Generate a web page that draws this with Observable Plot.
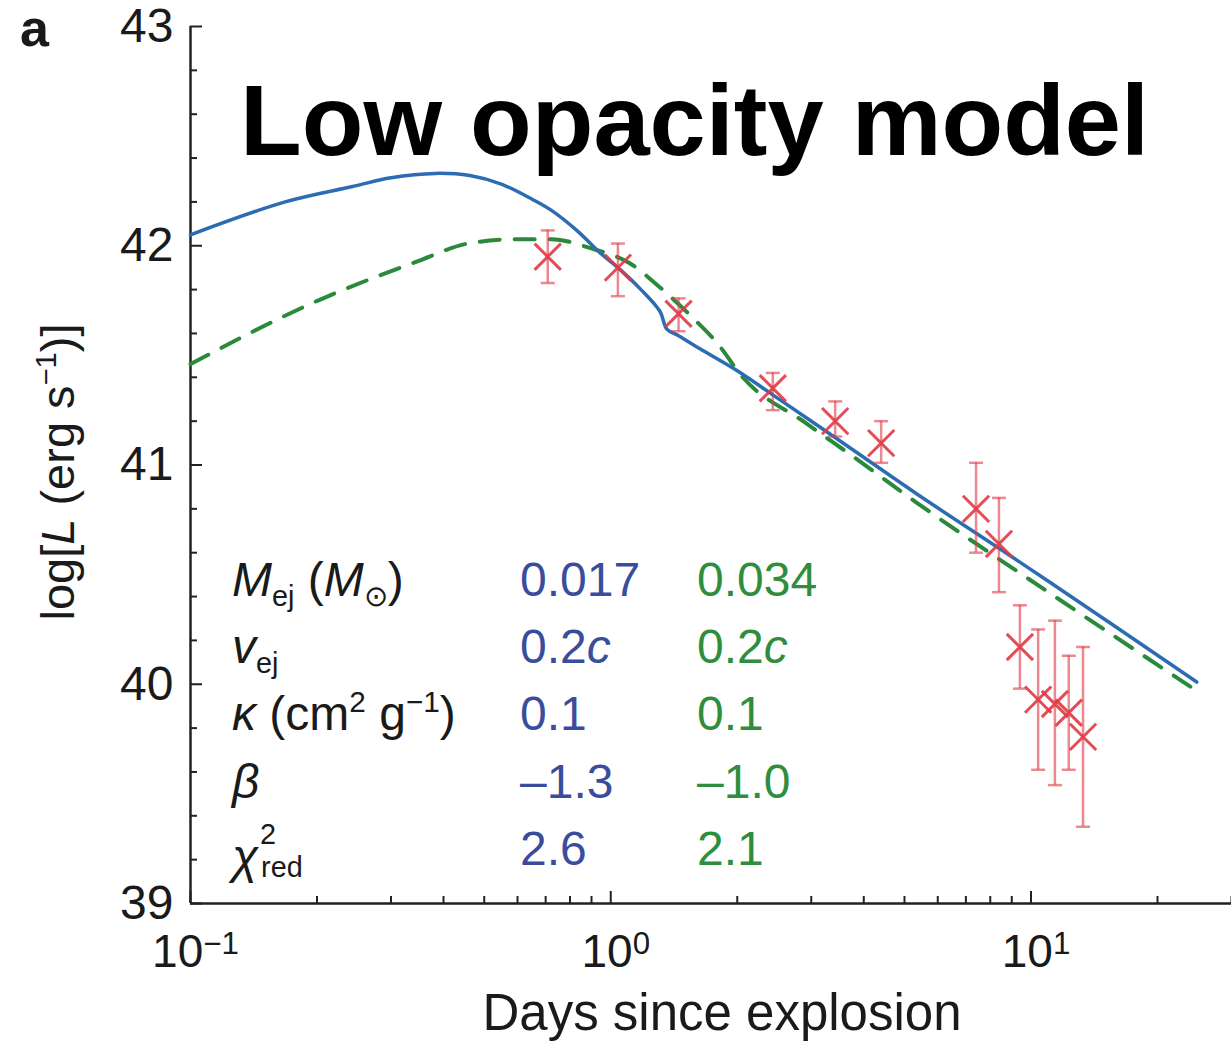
<!DOCTYPE html>
<html><head><meta charset="utf-8">
<script src="https://cdn.jsdelivr.net/npm/d3@7"></script>
<script src="https://cdn.jsdelivr.net/npm/@observablehq/plot@0.6"></script>
<style>
body{margin:0;background:#fff;}
#wrap{position:relative;width:1231px;height:1044px;font-family:"Liberation Sans",Arial,Helvetica,sans-serif;color:#1a1a1a;overflow:hidden;}
#wrap svg{position:absolute;left:0;top:0;}
.t{position:absolute;line-height:1;white-space:nowrap;}
.t sub{font-size:0.6em;vertical-align:-0.33em;line-height:0;}
.t sup{font-size:0.62em;vertical-align:0.6em;line-height:0;}
.stack{display:inline-block;position:relative;width:1.2em;height:1em;vertical-align:baseline;}
.stack .up{position:absolute;left:0.06em;top:-0.2em;font-size:0.6em;line-height:1;}
.stack .dn{position:absolute;left:0.1em;top:0.95em;font-size:0.6em;line-height:1;}
</style></head><body><div id="wrap"></div>
<script>
// ---- model curves (days since explosion, log L) ----
const blueDays = [0.1, 0.168, 0.243, 0.30, 0.382, 0.462, 0.551, 0.653, 0.724, 0.83, 0.953, 1.04, 1.18, 1.31, 1.36, 1.45, 1.63, 2.0, 2.43, 3.70, 5.33, 8.39, 11.0, 24.8];
const blueLogL = [42.05, 42.20, 42.27, 42.31, 42.33, 42.32, 42.28, 42.21, 42.16, 42.07, 41.96, 41.90, 41.80, 41.70, 41.62, 41.59, 41.53, 41.43, 41.32, 41.08, 40.87, 40.62, 40.47, 40.01];
const greenDays = [0.1, 0.201, 0.348, 0.457, 0.601, 0.724, 0.891, 1.11, 1.31, 1.57, 1.82, 2.02, 2.92, 3.70, 5.33, 11.0, 24.8];
const greenLogL = [41.46, 41.75, 41.93, 42.01, 42.03, 42.03, 41.99, 41.92, 41.81, 41.67, 41.54, 41.42, 41.19, 41.05, 40.83, 40.42, 39.97];
// ---- observations ----
const obsDays  = [0.708, 1.04, 1.45, 2.43, 3.42, 4.40, 7.40, 8.39, 9.41, 10.4, 11.4, 12.3, 13.3];
const obsLogL  = [41.95, 41.90, 41.69, 41.35, 41.20, 41.10, 40.80, 40.64, 40.17, 39.93, 39.91, 39.87, 39.76];
const obsUpper = [42.07, 42.01, 41.76, 41.42, 41.29, 41.20, 41.01, 40.85, 40.36, 40.25, 40.29, 40.13, 40.17];
const obsLower = [41.83, 41.77, 41.61, 41.25, 41.13, 41.01, 40.60, 40.42, 39.98, 39.61, 39.54, 39.61, 39.35];
// ---- ticks ----
const yMajor = [39, 40, 41, 42, 43];
const yMinor = d3.range(39, 43.001, 0.2).filter(v => Math.abs(v - Math.round(v)) > 1e-6);
const xMajor = [0.1, 1, 10];
const xMinor = [0.2,0.3,0.4,0.5,0.6,0.7,0.8,0.9,2,3,4,5,6,7,8,9,20,30];
// ---- texts ----
const panelLetter = "a";
const titleText = "Low opacity model";
const xLabel = "Days since explosion";
const yLabel = 'log[<i>L</i> (erg s<sup>−1</sup>)]';
const paramLabels = [
  '<i>M</i><sub>ej</sub> (<i>M</i><sub>⊙</sub>)',
  '<i>v</i><sub>ej</sub>',
  '<i>κ</i> (cm<sup>2</sup> g<sup>−1</sup>)',
  '<i>β</i>',
  '<i>χ</i><span class="stack"><span class="up">2</span><span class="dn">red</span></span>'
];
const blueValues  = ['0.017', '0.2<i>c</i>', '0.1', '–1.3', '2.6'];
const greenValues = ['0.034', '0.2<i>c</i>', '0.1', '–1.0', '2.1'];

const BLUE = "#2c6cb3", GREEN = "#2a8a3b", RED = "#df3a45";
const BLUE_TXT = "#3a4d9c", GREEN_TXT = "#2f8d3e";

const blue = blueDays.map((d, i) => ({day: d, L: blueLogL[i]}));
const green = greenDays.map((d, i) => ({day: d, L: greenLogL[i]}));
const obs = obsDays.map((d, i) => ({day: d, L: obsLogL[i], hi: obsUpper[i], lo: obsLower[i]}));

const capSymbol = {draw(ctx, size) { const w = Math.sqrt(size / Math.PI); ctx.moveTo(-w, 0); ctx.lineTo(w, 0); }};

const W = 1231, H = 1044;
const chart = Plot.plot({
  width: W, height: H,
  marginLeft: 190, marginRight: 0, marginTop: 26, marginBottom: 141,
  style: {fontFamily: '"Liberation Sans", Arial, Helvetica, sans-serif', color: "#1a1a1a", background: "transparent"},
  x: {type: "log", domain: [0.1, 30]},
  y: {domain: [39, 43]},
  marks: [
    Plot.ruleX([0.1], {stroke: "#222", strokeWidth: 2.5}),
    Plot.ruleY([39], {stroke: "#222", strokeWidth: 2.5}),
    Plot.axisY(yMajor, {tickSize: -12, tickFormat: () => "", strokeWidth: 2, stroke: "#222", label: null}),
    Plot.axisY(yMinor, {tickSize: -7, tickFormat: () => "", strokeWidth: 2, stroke: "#222", label: null}),
    Plot.axisX(xMajor, {tickSize: -12, tickFormat: () => "", strokeWidth: 2, stroke: "#222", label: null}),
    Plot.axisX(xMinor, {tickSize: -7, tickFormat: () => "", strokeWidth: 2, stroke: "#222", label: null}),
    Plot.axisY(yMajor, {tickSize: 0, tickPadding: 17, fontSize: 48, tickFormat: d3.format("d"), label: null}),
    Plot.axisX(xMajor, {tickSize: 0, tickPadding: 31, fontSize: 46, dx: 5, tickFormat: d => "E" + Math.round(Math.log10(d)), label: null}),
    Plot.line(green, {x: "day", y: "L", stroke: GREEN, strokeWidth: 4, strokeDasharray: "20,15", curve: "monotone-x"}),
    Plot.line(blue, {x: "day", y: "L", stroke: BLUE, strokeWidth: 3.5, curve: "catmull-rom"}),
    Plot.ruleX(obs, {x: "day", y1: "lo", y2: "hi", stroke: RED, strokeOpacity: 0.6, strokeWidth: 2.5}),
    Plot.dot(obs, {x: "day", y: "hi", symbol: capSymbol, r: 7, stroke: RED, strokeOpacity: 0.6, strokeWidth: 2.5}),
    Plot.dot(obs, {x: "day", y: "lo", symbol: capSymbol, r: 7, stroke: RED, strokeOpacity: 0.6, strokeWidth: 2.5}),
    Plot.dot(obs, {x: "day", y: "L", symbol: "times", r: 12, stroke: RED, strokeOpacity: 0.9, strokeWidth: 3})
  ]
});

const wrap = document.getElementById("wrap");
wrap.appendChild(chart);

// superscript exponents on x tick labels
const ns = "http://www.w3.org/2000/svg";
chart.querySelectorAll('g[aria-label="x-axis tick label"] text').forEach(t => {
  const s = t.textContent;
  if (!s.startsWith("E")) return;
  const e = s.slice(1).replace("-", "−");
  t.textContent = "";
  const a = document.createElementNS(ns, "tspan"); a.textContent = "10";
  const b = document.createElementNS(ns, "tspan"); b.textContent = e;
  b.setAttribute("dy", "-0.42em"); b.setAttribute("font-size", "0.68em");
  t.appendChild(a); t.appendChild(b);
});

function addText(html, opts) {
  const d = document.createElement("div");
  d.className = "t";
  d.innerHTML = html;
  Object.assign(d.style, opts);
  wrap.appendChild(d);
  return d;
}
const base = (b, fs) => (b - 0.8465 * fs) + "px";

addText(panelLetter, {left: "20px", top: base(46, 52), fontSize: "52px", fontWeight: "bold"});
addText(titleText, {left: "240px", top: base(155, 101), fontSize: "101px", fontWeight: "bold", color: "#000"});
addText(xLabel, {left: "722px", top: base(1030, 51), fontSize: "51px", transform: "translateX(-50%)"});
addText(yLabel, {left: "57px", top: "472px", fontSize: "47px", transform: "translate(-50%,-50%) rotate(-90deg)"});

const FS = 48;
const rowBase = [597, 664, 731, 799, 866];
paramLabels.forEach((h, i) => {
  addText(h, {left: "232px", top: base(rowBase[i], FS), fontSize: FS + "px"});
  addText(blueValues[i], {left: "520px", top: base(rowBase[i], FS), fontSize: FS + "px", color: BLUE_TXT});
  addText(greenValues[i], {left: "697px", top: base(rowBase[i], FS), fontSize: FS + "px", color: GREEN_TXT});
});
</script>
</body></html>
